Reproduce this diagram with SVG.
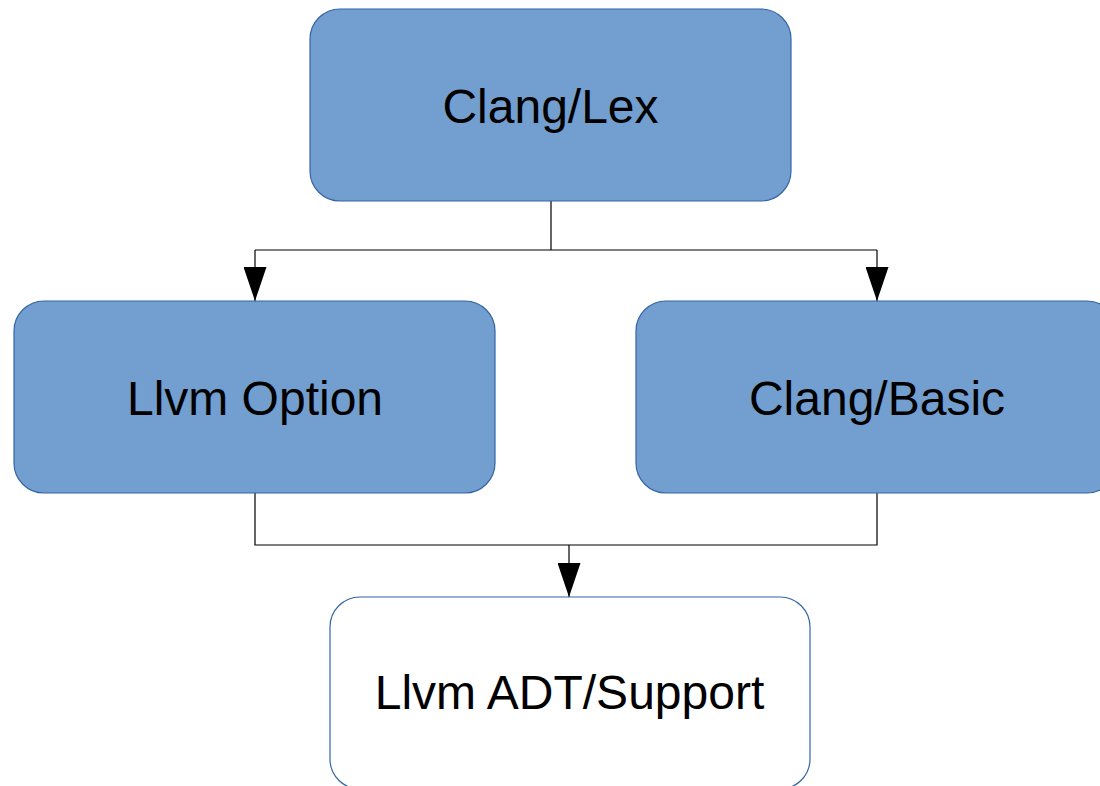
<svg xmlns="http://www.w3.org/2000/svg" width="1100" height="786" viewBox="0 0 1100 786">
<style>
.box{fill:#729fcf;stroke:#3465a4;stroke-width:1.2}
.wbox{fill:#ffffff;stroke:#3465a4;stroke-width:1.2}
.lbl{font-family:"Liberation Sans",Arial,sans-serif;font-size:48px;fill:#000;text-anchor:middle}
.conn{fill:none;stroke:#000;stroke-width:1.2}
</style>
<defs>
<marker id="arr" markerUnits="userSpaceOnUse" markerWidth="34" markerHeight="23" refX="34" refY="11.5" orient="auto" viewBox="0 0 34 23">
<path d="M0,0 L34,11.5 L0,23 Z" fill="#000"/>
</marker>
</defs>
<rect width="1100" height="786" fill="#fff"/>
<g id="connectors">
<path class="conn" d="M551,201 V250 M255,250 H877"/>
<path class="conn" d="M255,250 V301" marker-end="url(#arr)"/>
<path class="conn" d="M877,250 V301" marker-end="url(#arr)"/>
<path class="conn" d="M255,493 V545 H877 V493"/>
<path class="conn" d="M569,545 V597" marker-end="url(#arr)"/>
</g>
<g id="clang-lex">
<rect class="box" x="310" y="9" width="481" height="192" rx="30" ry="30"/>
<text class="lbl" x="550.5" y="123">Clang/Lex</text>
</g>
<g id="llvm-option">
<rect class="box" x="14" y="301" width="481" height="192" rx="30" ry="30"/>
<text class="lbl" x="255" y="415">Llvm Option</text>
</g>
<g id="clang-basic">
<rect class="box" x="636" y="301" width="481" height="192" rx="30" ry="30"/>
<text class="lbl" x="877" y="415">Clang/Basic</text>
</g>
<g id="llvm-adt-support">
<rect class="wbox" x="330" y="597" width="480" height="192" rx="30" ry="30"/>
<text class="lbl" x="569.5" y="709">Llvm ADT/Support</text>
</g>
</svg>
